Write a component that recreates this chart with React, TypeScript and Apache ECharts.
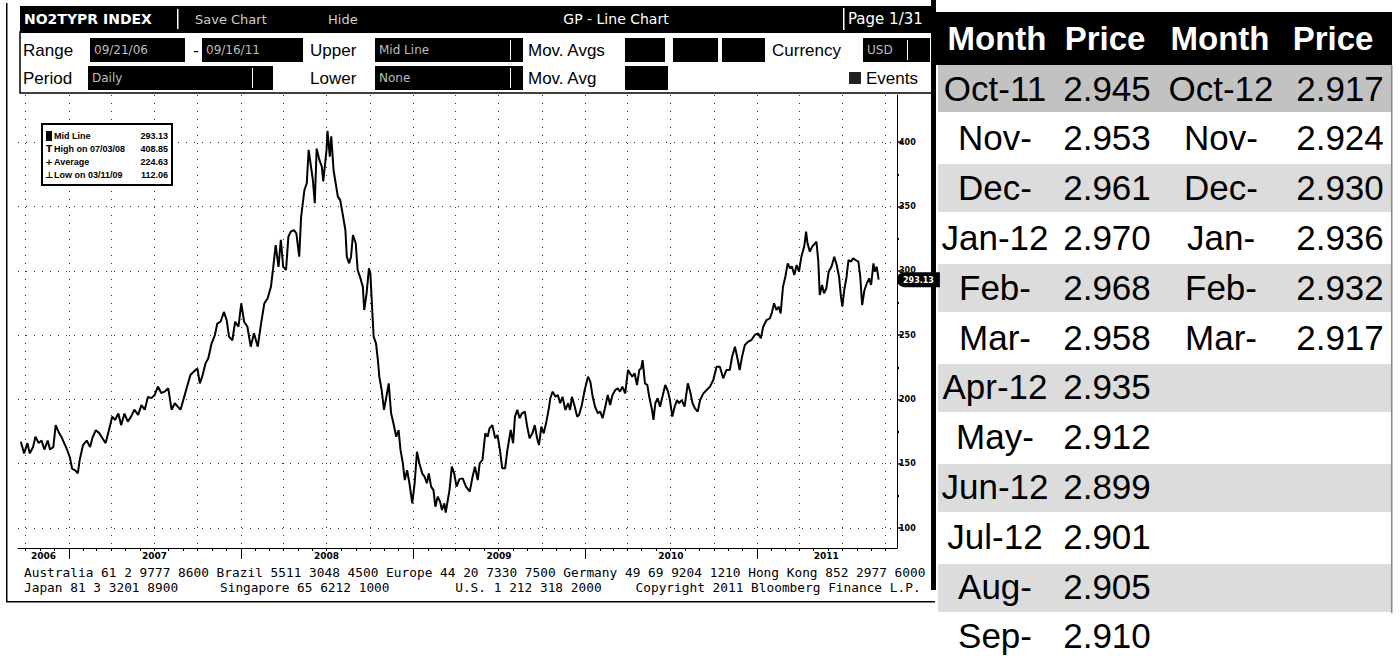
import { useEffect, useRef } from "react";
import * as echarts from "echarts";

// ---------- Price history (GP - Line Chart, Mid Line) ----------
const prices2006: [string, number][] = [
  ["2006-09-21", 167.1], ["2006-09-28", 158], ["2006-10-05", 166], ["2006-10-10", 158], ["2006-10-17", 163],
  ["2006-10-22", 171], ["2006-10-29", 166], ["2006-11-04", 168], ["2006-11-10", 161], ["2006-11-17", 168],
  ["2006-11-22", 161], ["2006-11-29", 163], ["2006-12-04", 180], ["2006-12-11", 174], ["2006-12-16", 171],
  ["2006-12-22", 166], ["2006-12-27", 162],
];
const prices2007: [string, number][] = [
  ["2007-01-03", 155], ["2007-01-08", 146], ["2007-01-14", 145], ["2007-01-20", 142.5], ["2007-01-24", 153],
  ["2007-01-31", 164.5], ["2007-02-08", 168], ["2007-02-15", 163], ["2007-02-20", 170], ["2007-02-27", 176],
  ["2007-03-06", 174], ["2007-03-13", 170], ["2007-03-20", 166], ["2007-03-27", 176], ["2007-04-03", 186.6],
  ["2007-04-09", 184], ["2007-04-16", 189], ["2007-04-22", 180], ["2007-04-29", 189], ["2007-05-06", 182.7],
  ["2007-05-13", 186.6], ["2007-05-20", 192], ["2007-05-28", 188], ["2007-06-04", 195.6], ["2007-06-11", 192],
  ["2007-06-18", 202], ["2007-06-25", 201], ["2007-07-02", 203.4], ["2007-07-09", 210], ["2007-07-16", 205],
  ["2007-07-23", 206], ["2007-07-31", 208.6], ["2007-08-07", 192], ["2007-08-14", 197], ["2007-08-21", 194],
  ["2007-08-26", 192], ["2007-09-02", 201], ["2007-09-09", 210], ["2007-09-16", 219], ["2007-09-23", 221.6],
  ["2007-10-01", 224], ["2007-10-06", 212.5], ["2007-10-11", 217.7], ["2007-10-18", 228], ["2007-10-24", 232],
  ["2007-10-31", 243.6], ["2007-11-07", 250], ["2007-11-12", 259], ["2007-11-19", 260.4], ["2007-11-26", 268],
  ["2007-12-02", 261.7], ["2007-12-07", 248.8], ["2007-12-14", 246], ["2007-12-20", 260.4], ["2007-12-27", 256.5],
];
const prices2008: [string, number][] = [
  ["2008-01-02", 274.7], ["2008-01-08", 260.4], ["2008-01-15", 256.5], ["2008-01-22", 241], ["2008-01-29", 251.4],
  ["2008-02-06", 241], ["2008-02-13", 259], ["2008-02-20", 274.7], ["2008-02-27", 278.6], ["2008-03-05", 287.7],
  ["2008-03-10", 303.3], ["2008-03-15", 320], ["2008-03-21", 303], ["2008-03-26", 324], ["2008-03-31", 303],
  ["2008-04-06", 300.6], ["2008-04-11", 326.6], ["2008-04-16", 330.4], ["2008-04-23", 331.7], ["2008-04-28", 329],
  ["2008-05-04", 311], ["2008-05-08", 342], ["2008-05-15", 362.8], ["2008-05-20", 368], ["2008-05-24", 394],
  ["2008-05-29", 381], ["2008-06-02", 370.6], ["2008-06-06", 352.5], ["2008-06-10", 395], ["2008-06-16", 386],
  ["2008-06-21", 381], ["2008-06-24", 369.5], ["2008-06-27", 380], ["2008-07-01", 394], ["2008-07-03", 408.85],
  ["2008-07-08", 388.7], ["2008-07-11", 404.6], ["2008-07-16", 378], ["2008-07-25", 357.7], ["2008-07-30", 355],
  ["2008-08-04", 344.7], ["2008-08-10", 331.7], ["2008-08-13", 311], ["2008-08-18", 305.8], ["2008-08-22", 311],
  ["2008-08-26", 327.8], ["2008-09-01", 321.4], ["2008-09-05", 300.6], ["2008-09-10", 295.4], ["2008-09-16", 287.7],
  ["2008-09-19", 269.5], ["2008-09-24", 282.5], ["2008-09-29", 302], ["2008-10-02", 298], ["2008-10-06", 269.5],
  ["2008-10-09", 248.8], ["2008-10-14", 243.6], ["2008-10-18", 230.6], ["2008-10-21", 217.7], ["2008-10-26", 207.3],
  ["2008-10-31", 191.8], ["2008-11-05", 202], ["2008-11-10", 212.5], ["2008-11-15", 189.2], ["2008-11-20", 181.4],
  ["2008-11-26", 171], ["2008-12-01", 176.2], ["2008-12-05", 160.7], ["2008-12-10", 150.3], ["2008-12-14", 137.3],
  ["2008-12-19", 145], ["2008-12-24", 134.8], ["2008-12-30", 119.2],
];
const prices2009: [string, number][] = [
  ["2009-01-04", 134.8], ["2009-01-09", 159.3], ["2009-01-14", 150.3], ["2009-01-20", 142.5], ["2009-01-25", 139.9],
  ["2009-01-30", 134.8], ["2009-02-03", 142.5], ["2009-02-08", 132.2], ["2009-02-13", 129.5], ["2009-02-17", 116.6],
  ["2009-02-22", 124.4], ["2009-02-27", 120.5], ["2009-03-03", 114], ["2009-03-08", 119.2], ["2009-03-11", 112.06],
  ["2009-03-19", 129.5], ["2009-03-24", 147.7], ["2009-03-29", 142.5], ["2009-04-03", 132.2], ["2009-04-09", 138],
  ["2009-04-16", 138.6], ["2009-04-23", 132.2], ["2009-05-01", 128.3], ["2009-05-07", 139.9], ["2009-05-12", 147.7],
  ["2009-05-18", 137.3], ["2009-05-22", 150.3], ["2009-05-28", 152.9], ["2009-06-03", 173.6], ["2009-06-08", 171],
  ["2009-06-12", 177.5], ["2009-06-18", 180], ["2009-06-24", 169.8], ["2009-06-29", 172.3], ["2009-07-04", 160.7],
  ["2009-07-09", 146.4], ["2009-07-15", 146.4], ["2009-07-20", 160.7], ["2009-07-27", 176.2], ["2009-08-01", 165.9],
  ["2009-08-05", 186.6], ["2009-08-10", 191.8], ["2009-08-15", 185.4], ["2009-08-20", 189.2], ["2009-08-26", 190.5],
  ["2009-08-31", 178.8], ["2009-09-05", 169.8], ["2009-09-11", 173.6], ["2009-09-16", 180], ["2009-09-21", 169.8],
  ["2009-09-25", 164.5], ["2009-09-30", 178.8], ["2009-10-05", 173.6], ["2009-10-10", 181.4], ["2009-10-16", 193.1],
  ["2009-10-19", 200.9], ["2009-10-24", 206], ["2009-10-30", 202], ["2009-11-04", 203.4], ["2009-11-09", 197],
  ["2009-11-14", 202], ["2009-11-20", 191.8], ["2009-11-26", 197], ["2009-11-30", 191.8], ["2009-12-04", 202],
  ["2009-12-10", 194.3], ["2009-12-15", 186.6], ["2009-12-19", 187.9], ["2009-12-25", 195.6], ["2009-12-31", 207.3],
];
const prices2010: [string, number][] = [
  ["2010-01-07", 217.7], ["2010-01-12", 213.8], ["2010-01-17", 202], ["2010-01-22", 194.3], ["2010-01-28", 189.2],
  ["2010-02-02", 190.5], ["2010-02-07", 185.4], ["2010-02-12", 193.1], ["2010-02-18", 203.4], ["2010-02-23", 195.6],
  ["2010-02-28", 203.4], ["2010-03-06", 207.3], ["2010-03-11", 208.6], ["2010-03-16", 206], ["2010-03-21", 209.9],
  ["2010-03-27", 204.7], ["2010-04-02", 222.9], ["2010-04-06", 220.3], ["2010-04-11", 217.7], ["2010-04-16", 220.3],
  ["2010-04-21", 211.2], ["2010-04-26", 222.9], ["2010-04-30", 224.2], ["2010-05-03", 230.6], ["2010-05-08", 212.5],
  ["2010-05-13", 211.2], ["2010-05-17", 202], ["2010-05-23", 191.8], ["2010-05-26", 184], ["2010-05-30", 197],
  ["2010-06-04", 200.9], ["2010-06-09", 194.3], ["2010-06-14", 202], ["2010-06-20", 211.2], ["2010-06-26", 206],
  ["2010-06-30", 199.5], ["2010-07-05", 186.6], ["2010-07-10", 194.3], ["2010-07-15", 199.5], ["2010-07-19", 197],
  ["2010-07-25", 199.5], ["2010-07-31", 194.3], ["2010-08-07", 212.5], ["2010-08-12", 206], ["2010-08-17", 197],
  ["2010-08-22", 193.1], ["2010-08-28", 190.5], ["2010-09-02", 199.5], ["2010-09-09", 204.7], ["2010-09-16", 207.3],
  ["2010-09-23", 209.9], ["2010-09-30", 215.1], ["2010-10-07", 225.4], ["2010-10-14", 225.4], ["2010-10-21", 216.4],
  ["2010-10-28", 222.9], ["2010-11-04", 222.9], ["2010-11-09", 233.2], ["2010-11-15", 241], ["2010-11-21", 230.6],
  ["2010-11-25", 222.9], ["2010-11-30", 233.2], ["2010-12-06", 242.3], ["2010-12-13", 244.9], ["2010-12-20", 246.2],
  ["2010-12-27", 250.1],
];
const prices2011: [string, number][] = [
  ["2011-01-03", 251.4], ["2011-01-09", 247.5], ["2011-01-14", 256.5], ["2011-01-21", 261.7], ["2011-01-28", 263],
  ["2011-02-01", 266.9], ["2011-02-06", 274.7], ["2011-02-11", 269.5], ["2011-02-16", 272.1], ["2011-02-20", 266.9],
  ["2011-02-25", 287.7], ["2011-03-02", 295.4], ["2011-03-07", 305.8], ["2011-03-12", 302], ["2011-03-16", 303.3],
  ["2011-03-21", 296.7], ["2011-03-26", 304.5], ["2011-03-31", 299.3], ["2011-04-05", 311], ["2011-04-11", 318.8],
  ["2011-04-15", 330.4], ["2011-04-18", 321.4], ["2011-04-23", 314.9], ["2011-04-28", 318.8], ["2011-05-04", 321.4],
  ["2011-05-07", 322.6], ["2011-05-11", 307.1], ["2011-05-14", 281.2], ["2011-05-19", 289], ["2011-05-23", 282.5],
  ["2011-05-28", 286.4], ["2011-06-02", 299.3], ["2011-06-08", 303.3], ["2011-06-14", 311], ["2011-06-19", 304.5],
  ["2011-06-24", 295.4], ["2011-06-28", 279.9], ["2011-07-01", 272.1], ["2011-07-05", 285.1], ["2011-07-10", 295.4],
  ["2011-07-14", 308.4], ["2011-07-19", 307.1], ["2011-07-24", 309.7], ["2011-07-29", 308.4], ["2011-08-04", 307.1],
  ["2011-08-08", 295.4], ["2011-08-12", 273.4], ["2011-08-17", 285.1], ["2011-08-22", 290.3], ["2011-08-27", 294.1],
  ["2011-08-31", 289], ["2011-09-05", 305.8], ["2011-09-08", 299.3], ["2011-09-12", 303.3], ["2011-09-16", 293.13],
];

// ---------- Axis values ----------
const yTickValues = [100, 150, 200, 250, 300, 350, 400];
const yMinorTickValues = [125, 175, 225, 275, 325, 375];
const yearBoundaries = ["2007-01-01", "2008-01-01", "2009-01-01", "2010-01-01", "2011-01-01"];
const yearLabelDates = ["2006-11-08", "2007-07-02", "2008-07-01", "2009-07-02", "2010-07-02", "2011-05-28"];
const xStart = "2006-09-15";
const xEnd = "2011-10-25";
const yBottom = 84.45;
const yTop = 436.7;

// ---------- Legend box ----------
const legendSymbols = ["", "T", "+", "\u22A5"];
const legendLabels = ["Mid Line", "High on 07/03/08", "Average", "Low on 03/11/09"];
const legendValues = [293.13, 408.85, 224.63, 112.06];

// ---------- Price table ----------
const tableHeader = ["Month", "Price", "Month", "Price"];
const monthsA = ["Oct-11", "Nov-", "Dec-", "Jan-12", "Feb-", "Mar-", "Apr-12", "May-", "Jun-12", "Jul-12", "Aug-", "Sep-"];
const pricesA = [2.945, 2.953, 2.961, 2.97, 2.968, 2.958, 2.935, 2.912, 2.899, 2.901, 2.905, 2.91];
const monthsB = ["Oct-12", "Nov-", "Dec-", "Jan-", "Feb-", "Mar-"];
const pricesB = [2.917, 2.924, 2.93, 2.936, 2.932, 2.917];

// ---------- Footer ----------
const footerLine1 = "Australia 61 2 9777 8600 Brazil 5511 3048 4500 Europe 44 20 7330 7500 Germany 49 69 9204 1210 Hong Kong 852 2977 6000";
const footerLine2: [number, string][] = [
  [0, "Japan 81 3 3201 8900"],
  [25, "Singapore 65 6212 1000"],
  [55, "U.S. 1 212 318 2000"],
  [78, "Copyright 2011 Bloomberg Finance L.P."],
];

const FONT_UI = "'Liberation Sans', Arial, sans-serif";
const FONT_BB = "'DejaVu Sans', sans-serif";
const FONT_MONO = "'DejaVu Sans Mono', monospace";
const MONO_SIZE = 12.8;
const MONO_CHAR = 7.84;

const ts = (s: string) => {
  const [y, m, d] = s.split("-").map(Number);
  return new Date(y, m - 1, d).getTime();
};

function monthStarts(stepMonths: number, firstMonth: number) {
  const out: number[] = [];
  for (let y = 2006; y <= 2011; y++) {
    for (let m = firstMonth; m <= 12; m += stepMonths) {
      const t = new Date(y, m - 1, 1).getTime();
      if (t >= ts(xStart) && t <= ts(xEnd)) out.push(t);
    }
  }
  return out;
}

type TOpts = { fill?: string; family?: string; weight?: string; align?: string; z?: number };
function txt(x: number, y: number, s: string, size: number, o: TOpts = {}) {
  const align = o.align ?? "left";
  return {
    type: "text",
    x,
    y,
    silent: true,
    z: o.z ?? 20,
    style: {
      text: s,
      fill: o.fill ?? "#000",
      fontSize: size,
      fontFamily: o.family ?? FONT_UI,
      fontWeight: o.weight ?? "normal",
      align,
      verticalAlign: "middle",
      textAlign: align,
      textVerticalAlign: "middle",
    },
  };
}
function box(x: number, y: number, w: number, h: number, fill: string, stroke?: string, lw?: number, z = 10) {
  return {
    type: "rect",
    silent: true,
    z,
    shape: { x, y, width: w, height: h },
    style: { fill, stroke: stroke ?? null, lineWidth: lw ?? 0 },
  };
}

export default function App() {
  const ref = useRef<HTMLDivElement>(null);

  useEffect(() => {
    if (!ref.current) return;
    const chart = echarts.init(ref.current, undefined, { renderer: "svg" });

    const allPrices = [...prices2006, ...prices2007, ...prices2008, ...prices2009, ...prices2010, ...prices2011];
    const seriesData = allPrices.map(([d, v]) => [ts(d), v]);
    const lastValue = allPrices[allPrices.length - 1][1];

    const g: any[] = [];
    // Bloomberg frame
    g.push(box(6, 3, 1.5, 599, "#000"));
    g.push(box(6, 601, 929, 1.5, "#000"));
    // Title bar
    g.push(box(20, 6, 915, 27, "#000"));
    g.push(txt(24, 19, "NO2TYPR INDEX", 14, { fill: "#fff", family: FONT_BB, weight: "bold" }));
    g.push(box(177, 9, 1.5, 20, "#fff", undefined, 0, 15));
    g.push(txt(195, 19, "Save Chart", 13, { fill: "#cfcfcf", family: FONT_BB }));
    g.push(txt(328, 19, "Hide", 13, { fill: "#cfcfcf", family: FONT_BB }));
    g.push(txt(616, 19, "GP - Line Chart", 14, { fill: "#fff", family: FONT_BB, align: "center" }));
    g.push(box(843, 8, 1.5, 22, "#fff", undefined, 0, 15));
    g.push(txt(848, 19, "Page 1/31", 15, { fill: "#fff", family: FONT_BB }));
    // Control rows
    g.push(box(20, 32, 915, 61, "#fff", "#000", 1.5, 8));
    const grey = { fill: "#bdbdbd", family: FONT_BB };
    g.push(txt(23, 50, "Range", 17));
    g.push(box(90, 38, 95, 24, "#000"));
    g.push(txt(94, 50, "09/21/06", 12, grey));
    g.push(txt(196, 50, "-", 17, { align: "center" }));
    g.push(box(202, 38, 101, 24, "#000"));
    g.push(txt(206, 50, "09/16/11", 12, grey));
    g.push(txt(310, 50, "Upper", 17));
    g.push(box(375, 38, 148, 24, "#000"));
    g.push(txt(379, 50, "Mid Line", 12, grey));
    g.push(box(510, 40, 1, 20, "#fff", undefined, 0, 15));
    g.push(txt(528, 50, "Mov. Avgs", 17));
    g.push(box(625, 38, 40, 24, "#000"));
    g.push(box(673, 38, 45, 24, "#000"));
    g.push(box(722, 38, 43, 24, "#000"));
    g.push(txt(772, 50, "Currency", 17));
    g.push(box(863, 38, 67, 24, "#000"));
    g.push(txt(867, 50, "USD", 12, grey));
    g.push(box(907, 40, 1, 20, "#fff", undefined, 0, 15));
    g.push(txt(23, 78, "Period", 17));
    g.push(box(88, 66, 185, 24, "#000"));
    g.push(txt(92, 78, "Daily", 12, grey));
    g.push(box(252, 68, 1, 20, "#fff", undefined, 0, 15));
    g.push(txt(310, 78, "Lower", 17));
    g.push(box(375, 66, 148, 24, "#000"));
    g.push(txt(379, 78, "None", 12, grey));
    g.push(box(510, 68, 1, 20, "#fff", undefined, 0, 15));
    g.push(txt(528, 78, "Mov. Avg", 17));
    g.push(box(625, 66, 43, 24, "#000"));
    g.push(box(849, 72, 12, 12, "#222"));
    g.push(txt(866, 78, "Events", 17));

    // Legend box inside the plot
    g.push(box(42, 124, 130, 61, "#fff", "#000", 2, 100));
    legendLabels.forEach((lab, i) => {
      const cy = 136 + i * 13;
      if (i === 0) g.push(box(46, cy - 5, 6, 10, "#000", undefined, 0, 101));
      else g.push(txt(49, cy, legendSymbols[i], 9, { family: FONT_BB, weight: "bold", align: "center", z: 101 }));
      g.push(txt(54, cy, lab, 9, { weight: "bold", z: 101 }));
      g.push(txt(168, cy, legendValues[i].toFixed(2), 9, { weight: "bold", align: "right", z: 101 }));
    });

    // Footer
    g.push(txt(24, 572, footerLine1, MONO_SIZE, { family: FONT_MONO }));
    footerLine2.forEach(([col, s]) => g.push(txt(24 + col * MONO_CHAR, 587, s, MONO_SIZE, { family: FONT_MONO })));

    // Price table
    g.push(box(931, 0, 5, 590, "#000"));
    g.push(box(936, 12, 456, 53, "#000"));
    const headX = [997, 1105, 1220, 1333];
    tableHeader.forEach((h, i) =>
      g.push(txt(headX[i], 38, h, 33, { fill: "#fff", weight: "bold", align: "center" }))
    );
    const colX = [995, 1107, 1221, 1340];
    monthsA.forEach((m, i) => {
      const top = 63 + i * 50;
      const cy = 88 + i * 49.8;
      if (i % 2 === 0) g.push(box(938, top + 1, 454, 48, i === 0 ? "#c2c2c2" : "#dcdcdc", undefined, 0, 5));
      g.push(txt(colX[0], cy, m, 35, { align: "center" }));
      g.push(txt(colX[1], cy, pricesA[i].toFixed(3), 35, { align: "center" }));
      if (i < monthsB.length) {
        g.push(txt(colX[2], cy, monthsB[i], 35, { align: "center" }));
        g.push(txt(colX[3], cy, pricesB[i].toFixed(3), 35, { align: "center" }));
      }
    });
    g.push(box(1391, 65, 1.5, 548, "#888"));

    const dotted = { type: [1, 7] as any, color: "#333", width: 1 };
    const xBase = { type: "value" as const, position: "bottom" as const, min: ts(xStart), max: ts(xEnd) };
    const yBase = { type: "value" as const, position: "right" as const, min: yBottom, max: yTop };

    chart.setOption({
      animation: false,
      backgroundColor: "#fff",
      grid: { left: 18, right: 503, top: 95, bottom: 110, containLabel: false },
      xAxis: [
        {
          ...xBase,
          axisLine: { show: true, onZero: false, lineStyle: { color: "#000", width: 1 } },
          axisTick: { show: true, customValues: yearBoundaries.map(ts), length: 11, lineStyle: { color: "#000", width: 1 } },
          axisLabel: {
            show: true,
            customValues: yearLabelDates.map(ts),
            formatter: (v: number) => String(new Date(v).getFullYear()),
            color: "#000",
            fontSize: 9,
            fontWeight: "bold",
            fontFamily: FONT_BB,
            margin: 3,
          },
          splitLine: { show: false },
        },
        {
          ...xBase,
          axisLine: { show: false, onZero: false },
          axisTick: { show: false, customValues: monthStarts(3, 1) },
          axisLabel: { show: false },
          splitLine: { show: true, lineStyle: dotted },
        },
        {
          ...xBase,
          axisLine: { show: false, onZero: false },
          axisTick: { show: true, customValues: monthStarts(1, 1), length: 3, lineStyle: { color: "#000" } },
          axisLabel: { show: false },
          splitLine: { show: false },
        },
      ],
      yAxis: [
        {
          ...yBase,
          axisLine: { show: true, onZero: false, lineStyle: { color: "#000", width: 1 } },
          axisTick: { show: true, customValues: yTickValues, length: 5, lineStyle: { color: "#000", width: 1.5 } },
          axisLabel: {
            show: true,
            customValues: yTickValues,
            color: "#000",
            fontSize: 8,
            fontWeight: "bold",
            fontFamily: FONT_BB,
            margin: 2,
          },
          splitLine: { show: true, lineStyle: dotted },
          axisPointer: {
            show: true,
            type: "none",
            status: "show",
            value: lastValue,
            triggerTooltip: false,
            label: {
              show: true,
              backgroundColor: "#000",
              color: "#fff",
              fontSize: 8,
              fontWeight: "bold",
              fontFamily: FONT_BB,
              padding: [4, 6, 3, 6],
              borderRadius: [7, 0, 0, 7],
              margin: 0,
              formatter: (p: any) => Number(p.value).toFixed(2),
            },
          },
        },
        {
          ...yBase,
          axisLine: { show: false, onZero: false },
          axisTick: { show: true, customValues: yMinorTickValues, length: 2, lineStyle: { color: "#000", width: 2 } },
          axisLabel: { show: false },
          splitLine: { show: false },
        },
      ],
      series: [
        {
          type: "line",
          name: "Mid Line",
          xAxisIndex: 0,
          yAxisIndex: 0,
          data: seriesData,
          showSymbol: false,
          symbol: "none",
          lineStyle: { color: "#000", width: 2 },
          z: 5,
        },
      ],
      graphic: { elements: g },
    });

    return () => chart.dispose();
  }, []);

  return (
    <div
      ref={ref}
      style={{ position: "fixed", left: 0, top: 0, width: 1400, height: 658, background: "#fff" }}
    />
  );
}
